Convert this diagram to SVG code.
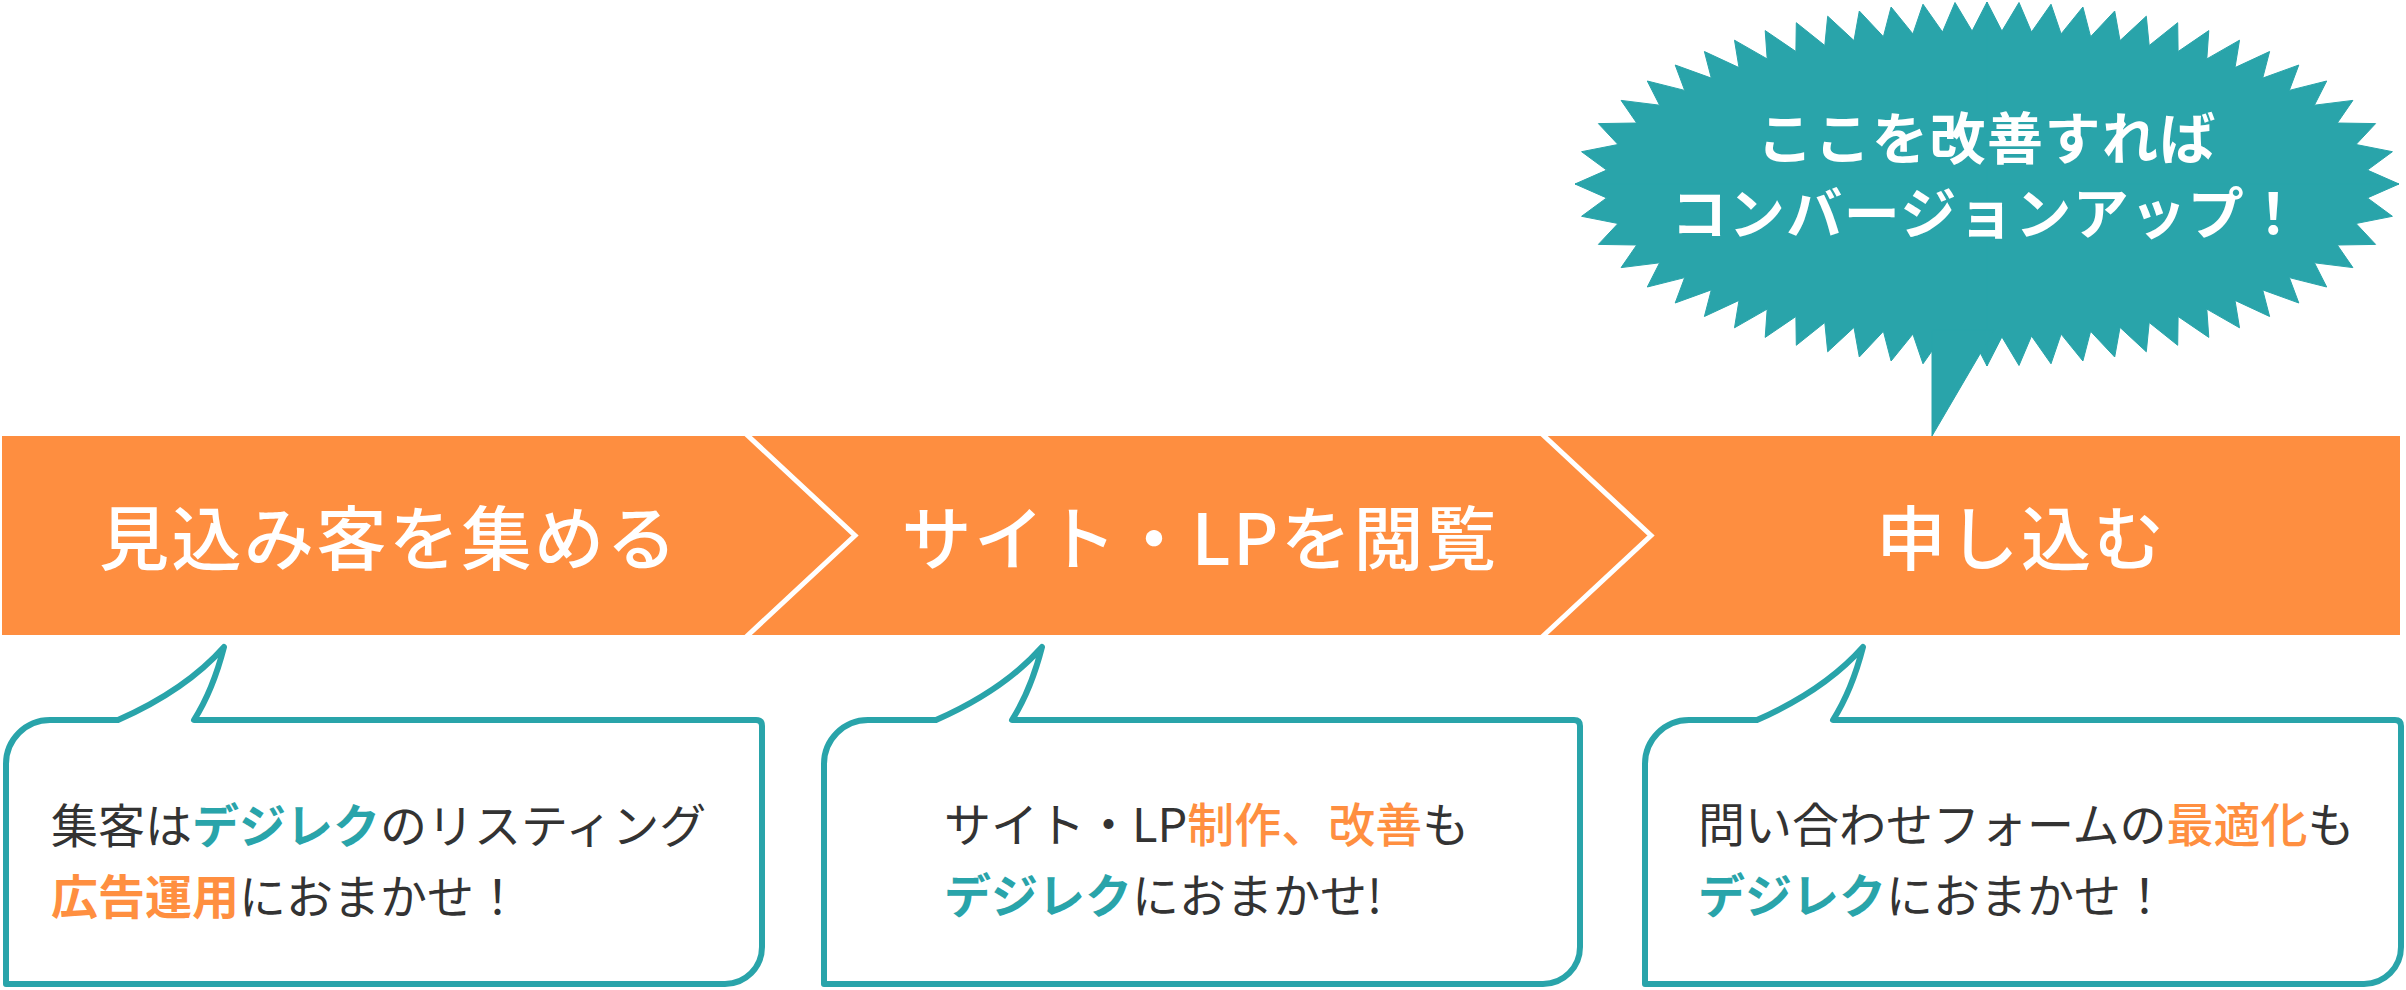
<svg xmlns="http://www.w3.org/2000/svg" xmlns:xlink="http://www.w3.org/1999/xlink" width="2406" height="990" viewBox="0 0 2406 990">
<style>
.seg{fill:#FE8E40}
.chev{fill:none;stroke:#fff;stroke-width:5;stroke-linejoin:miter}
.bt{font-family:"Noto Sans CJK JP","Noto Sans",sans-serif;font-weight:500;font-size:70px;fill:#fff;text-anchor:middle;letter-spacing:2.5px}
.bubble{fill:#fff;stroke:#29A4AA;stroke-width:6;stroke-linejoin:round}
.ct{font-family:"Noto Sans CJK JP","Noto Sans",sans-serif;font-size:47px;fill:#333;font-weight:400}
.tl{fill:#29A4AA;font-weight:700}
.or{fill:#FF8F40;font-weight:700}
.or5{fill:#FF8F40;font-weight:500}
.burst{fill:#29A4AA;stroke:#29A4AA;stroke-width:1}
.st{font-family:"Noto Sans CJK JP","Noto Sans",sans-serif;font-weight:700;font-size:56px;fill:#fff;text-anchor:middle;letter-spacing:1.5px}
</style>
<defs>
<polygon id="q" class="burst" points="0,0 412,0 380.4,-13.9 405.4,-32.3 369,-39.5 388.6,-60.4 350.3,-61 365.9,-83.6 327.4,-78.8 339.7,-103 302.3,-93.6 311.8,-119 275.7,-105.9 282.6,-132.5 248,-116.4 252.5,-143.8 219.8,-125.1 221.8,-153.4 191.1,-132.5 190.7,-161.3 162.2,-138.5 159.3,-167.8 133,-143.4 127.7,-173 103.6,-147.3 95.9,-177 74.1,-150.1 64,-179.8 44.5,-152 32,-181.5 14.9,-152.9 0,-182"/>
<path id="bub" class="bubble" d="M0,764 A44 44 0 0 1 44,720 L112,720 Q180,690 218,647 Q207,690 188,720 L750,720 Q756,720 756,726 L756,947 A37 37 0 0 1 719,984 L0,984 Z"/>
</defs>
<g id="step1">
<polygon class="seg" points="2,436 746,436 855,535.5 746,635 2,635"/>
<text class="bt" x="389" y="565">見込み客を集める</text>
</g>
<g id="step2">
<polygon class="seg" points="746,436 1542,436 1651,535.5 1542,635 746,635 855,535.5"/>
<text class="bt" x="1200" y="565">サイト・LPを閲覧</text>
</g>
<g id="step3">
<polygon class="seg" points="1542,436 2400,436 2400,635 1542,635 1651,535.5"/>
<text class="bt" x="2021" y="565">申し込む</text>
</g>
<g id="connectors">
<polyline class="chev" points="746,434 855,535.5 746,637"/>
<polyline class="chev" points="1542,434 1651,535.5 1542,637"/>
</g>
<g id="burst">
<g transform="translate(1987,184)">
<use xlink:href="#q" href="#q"/>
<use xlink:href="#q" href="#q" transform="scale(-1,1)"/>
<use xlink:href="#q" href="#q" transform="scale(1,-1)"/>
<use xlink:href="#q" href="#q" transform="scale(-1,-1)"/>
</g>
<polygon class="burst" points="1932,330 1932,436 1994,330"/>
<text class="st" x="1987" y="159">ここを改善すれば</text>
<text class="st" x="1987" y="234">コンバージョンアップ！</text>
</g>
<g id="note1">
<use xlink:href="#bub" href="#bub" transform="translate(6,0)"/>
<text class="ct" x="51" y="843">集客は<tspan class="tl">デジレク</tspan>のリスティング</text>
<text class="ct" x="51" y="914"><tspan class="or">広告運用</tspan>におまかせ！</text>
</g>
<g id="note2">
<use xlink:href="#bub" href="#bub" transform="translate(824,0)"/>
<text class="ct" x="944" y="842">サイト・LP<tspan class="or5">制作、改善</tspan>も</text>
<text class="ct" x="944" y="913"><tspan class="tl">デジレク</tspan>におまかせ!</text>
</g>
<g id="note3">
<use xlink:href="#bub" href="#bub" transform="translate(1645,0)"/>
<text class="ct" x="1698" y="842">問い合わせフォームの<tspan class="or5">最適化</tspan>も</text>
<text class="ct" x="1698" y="913"><tspan class="tl">デジレク</tspan>におまかせ！</text>
</g>
</svg>
